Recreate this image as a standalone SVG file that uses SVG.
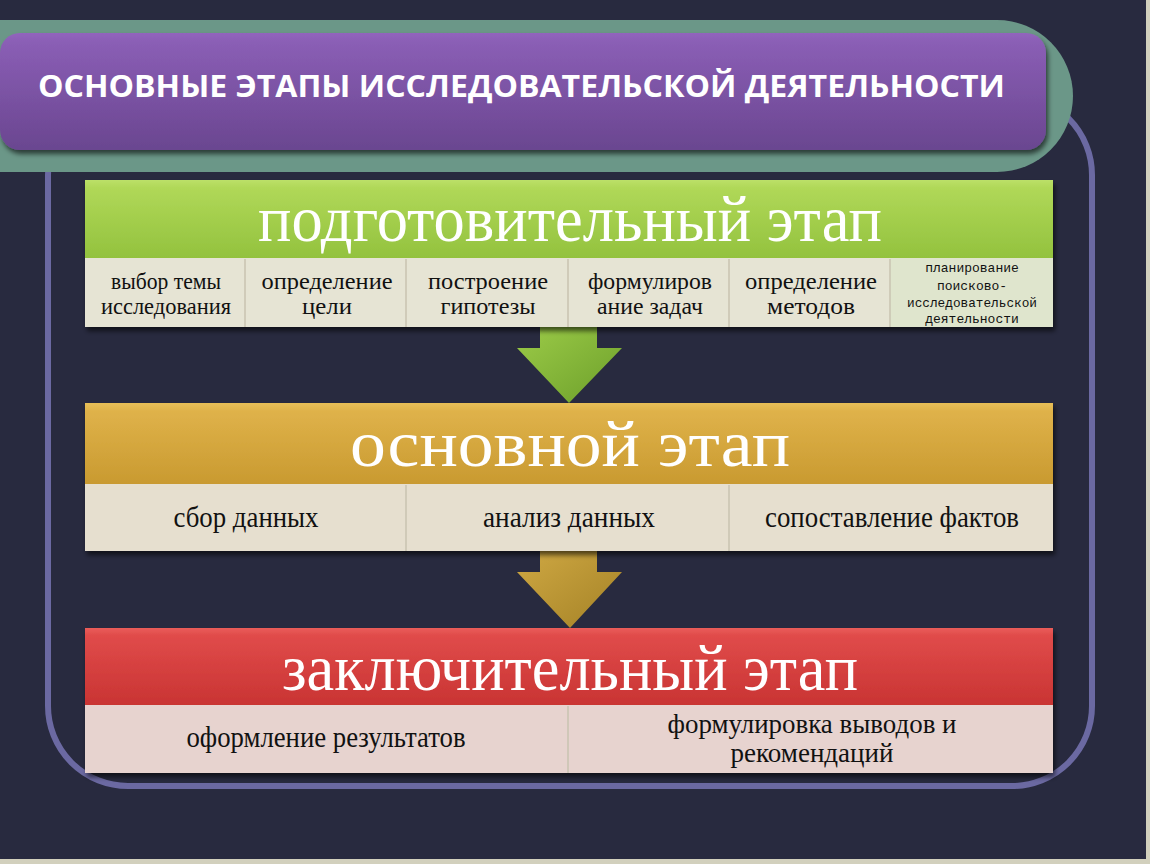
<svg xmlns="http://www.w3.org/2000/svg" width="1150" height="864" viewBox="0 0 1150 864">
<defs>
  <linearGradient id="gPurple" x1="0" y1="0" x2="0" y2="1">
    <stop offset="0" stop-color="#9265bd"/>
    <stop offset="0.08" stop-color="#8a5eb5"/>
    <stop offset="1" stop-color="#6a4690"/>
  </linearGradient>
  <linearGradient id="gGreen" x1="0" y1="0" x2="0" y2="1">
    <stop offset="0" stop-color="#bce068"/>
    <stop offset="0.1" stop-color="#b0d858"/>
    <stop offset="1" stop-color="#93c23e"/>
  </linearGradient>
  <linearGradient id="gGold" x1="0" y1="0" x2="0" y2="1">
    <stop offset="0" stop-color="#e8bf58"/>
    <stop offset="0.1" stop-color="#dfb24a"/>
    <stop offset="1" stop-color="#c99a30"/>
  </linearGradient>
  <linearGradient id="gRed" x1="0" y1="0" x2="0" y2="1">
    <stop offset="0" stop-color="#ea5d5a"/>
    <stop offset="0.1" stop-color="#e04b4a"/>
    <stop offset="1" stop-color="#c93433"/>
  </linearGradient>
  <linearGradient id="gArrowG" x1="0" y1="0" x2="1" y2="1">
    <stop offset="0" stop-color="#9ccb48"/>
    <stop offset="1" stop-color="#6c9f2a"/>
  </linearGradient>
  <linearGradient id="gArrowY" x1="0" y1="0" x2="1" y2="1">
    <stop offset="0" stop-color="#cfa843"/>
    <stop offset="1" stop-color="#a48226"/>
  </linearGradient>
  <filter id="sh" x="-5%" y="-20%" width="110%" height="150%">
    <feDropShadow dx="2" dy="4" stdDeviation="2.5" flood-color="#000" flood-opacity="0.6"/>
  </filter>
  <style>
    .hdr { font-family: "Liberation Serif", "Times New Roman", serif; font-size: 66px; fill: #ffffff; text-anchor: middle; }
    .sub { font-family: "Liberation Serif", "Times New Roman", serif; font-size: 24px; fill: #111111; text-anchor: middle; }
    .subL { font-family: "Liberation Serif", "Times New Roman", serif; font-size: 30px; fill: #111111; text-anchor: middle; }
    .sub2 { font-family: "Liberation Serif", "Times New Roman", serif; font-size: 27px; fill: #111111; text-anchor: middle; }
    .mono { font-family: "Liberation Mono", "Courier New", monospace; font-size: 13px; fill: #111111; text-anchor: middle; }
    .title { font-family: "Open Sans", "Liberation Sans", sans-serif; font-weight: 700; font-size: 31px; fill: #ffffff; }
    .sep { stroke: #c8c3b0; stroke-width: 1.5; }
  </style>
</defs>

<rect x="0" y="0" width="1150" height="864" fill="#282a3f"/>
<rect x="1146" y="0" width="4" height="864" fill="#d2d0bd"/>
<rect x="0" y="859" width="1150" height="5" fill="#d2d0bd"/>

<g id="frame">
  <rect x="48" y="95" width="1044" height="691" rx="80" ry="80" fill="none" stroke="#6b69a2" stroke-width="6"/>
</g>

<g id="title">
  <rect x="-100" y="20" width="1173" height="152" rx="76" ry="76" fill="#6b9788"/>
  <rect x="0" y="33" width="1046" height="117" rx="20" ry="20" fill="url(#gPurple)" filter="url(#sh)"/>
  <text class="title" x="38" y="97" textLength="967" lengthAdjust="spacingAndGlyphs">ОСНОВНЫЕ ЭТАПЫ ИССЛЕДОВАТЕЛЬСКОЙ ДЕЯТЕЛЬНОСТИ</text>
</g>

<g id="connectors">
  <polygon points="540,327 597,327 597,348 622,348 569,403 517,348 540,348" fill="url(#gArrowG)"/>
  <polygon points="540,551 597,551 597,572 622,572 570,628 517,572 540,572" fill="url(#gArrowY)"/>
</g>

<g id="stage-prep">
  <g filter="url(#sh)">
    <rect x="85" y="180" width="968" height="78" fill="url(#gGreen)"/>
    <rect x="85" y="258" width="968" height="69" fill="#e6e4d4"/>
    <rect x="890" y="258" width="163" height="69" fill="#dfe5cd"/>
  </g>
  <line class="sep" x1="245" y1="259" x2="245" y2="327"/>
  <line class="sep" x1="406" y1="259" x2="406" y2="327"/>
  <line class="sep" x1="568" y1="259" x2="568" y2="327"/>
  <line class="sep" x1="729" y1="259" x2="729" y2="327"/>
  <line class="sep" x1="890" y1="259" x2="890" y2="327"/>
  <text class="hdr" x="570" y="241" textLength="624" lengthAdjust="spacingAndGlyphs">подготовительный этап</text>
  <text class="sub" x="166" y="289" textLength="110" lengthAdjust="spacingAndGlyphs">выбор темы</text>
  <text class="sub" x="166" y="314" textLength="130" lengthAdjust="spacingAndGlyphs">исследования</text>
  <text class="sub" x="327" y="289" textLength="131" lengthAdjust="spacingAndGlyphs">определение</text>
  <text class="sub" x="327" y="314" textLength="50" lengthAdjust="spacingAndGlyphs">цели</text>
  <text class="sub" x="488" y="289" textLength="120" lengthAdjust="spacingAndGlyphs">построение</text>
  <text class="sub" x="488" y="314" textLength="95" lengthAdjust="spacingAndGlyphs">гипотезы</text>
  <text class="sub" x="650" y="289" textLength="124" lengthAdjust="spacingAndGlyphs">формулиров</text>
  <text class="sub" x="650" y="314" textLength="106" lengthAdjust="spacingAndGlyphs">ание задач</text>
  <text class="sub" x="811" y="289" textLength="132" lengthAdjust="spacingAndGlyphs">определение</text>
  <text class="sub" x="811" y="314" textLength="88" lengthAdjust="spacingAndGlyphs">методов</text>
  <text class="mono" x="972" y="272">планирование</text>
  <text class="mono" x="972" y="290">поисково-</text>
  <text class="mono" x="972" y="307" textLength="130" lengthAdjust="spacingAndGlyphs">исследовательской</text>
  <text class="mono" x="972" y="323">деятельности</text>
</g>

<g id="stage-main">
  <g filter="url(#sh)">
    <rect x="85" y="403" width="968" height="81" fill="url(#gGold)"/>
    <rect x="85" y="484" width="968" height="67" fill="#e6dfcf"/>
  </g>
  <line class="sep" x1="406" y1="485" x2="406" y2="551"/>
  <line class="sep" x1="729" y1="485" x2="729" y2="551"/>
  <text class="hdr" x="570" y="466" textLength="440" lengthAdjust="spacingAndGlyphs">основной этап</text>
  <text class="subL" x="246" y="527" textLength="145" lengthAdjust="spacingAndGlyphs">сбор данных</text>
  <text class="subL" x="569" y="527" textLength="172" lengthAdjust="spacingAndGlyphs">анализ данных</text>
  <text class="subL" x="892" y="527" textLength="254" lengthAdjust="spacingAndGlyphs">сопоставление фактов</text>
</g>

<g id="stage-final">
  <g filter="url(#sh)">
    <rect x="85" y="628" width="968" height="77" fill="url(#gRed)"/>
    <rect x="85" y="705" width="968" height="68" fill="#e7d3cf"/>
  </g>
  <line class="sep" x1="568" y1="706" x2="568" y2="773"/>
  <text class="hdr" x="570" y="690" textLength="576" lengthAdjust="spacingAndGlyphs">заключительный этап</text>
  <text class="subL" x="326" y="747" textLength="279" lengthAdjust="spacingAndGlyphs">оформление результатов</text>
  <text class="sub2" x="812" y="733" textLength="289" lengthAdjust="spacingAndGlyphs">формулировка выводов и</text>
  <text class="sub2" x="812" y="762" textLength="163" lengthAdjust="spacingAndGlyphs">рекомендаций</text>
</g>
</svg>
